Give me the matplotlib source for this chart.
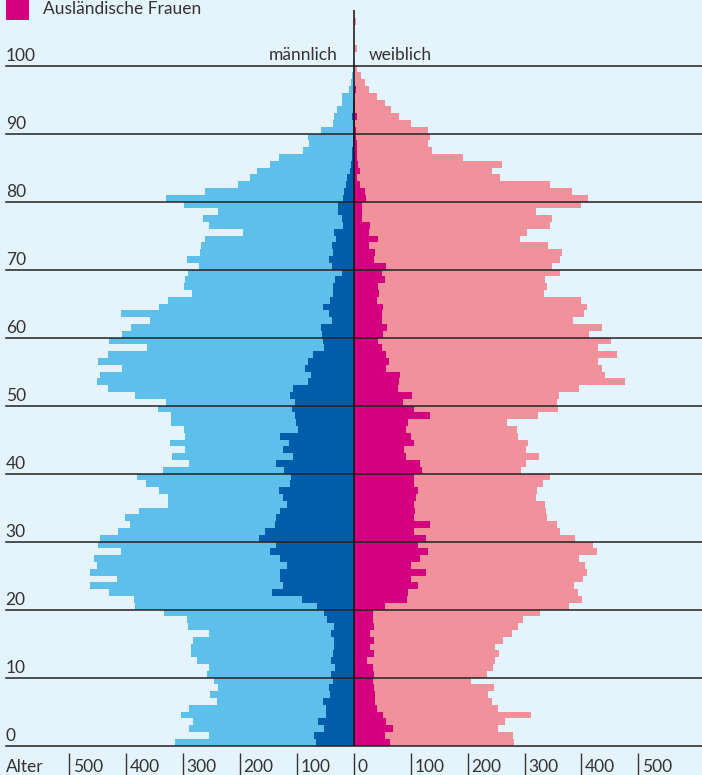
import numpy as np
import matplotlib
matplotlib.use("Agg")
import matplotlib.pyplot as plt
from matplotlib.patches import Rectangle

# Alter 0..100 (Maenner), Werte in Tausend
maenner_gesamt = [315, 254, 290, 283, 303, 290, 241, 252, 239, 246,
                  259, 255, 276, 287, 287, 283, 255, 292, 294, 333,
                  384, 387, 430, 463, 417, 463, 451, 456, 410, 449,
                  447, 414, 394, 403, 377, 327, 327, 343, 366, 382,
                  336, 290, 320, 296, 324, 296, 299, 322, 322, 345,
                  331, 384, 433, 451, 447, 407, 449, 433, 363, 431,
                  407, 391, 359, 410, 343, 327, 285, 299, 296, 292,
                  273, 294, 271, 269, 262, 194, 254, 266, 239, 299,
                  331, 262, 204, 183, 171, 148, 132, 90, 79, 81,
                  58, 37, 35, 30, 20, 20, 9, 5, 4, 2, 2]
maenner_ausl = [67, 70, 53, 63, 49, 49, 55, 42, 44, 37,
                40, 33, 40, 37, 35, 35, 40, 35, 48, 53,
                65, 92, 143, 125, 129, 130, 118, 130, 148, 137,
                167, 157, 139, 137, 129, 118, 125, 132, 113, 111,
                123, 136, 107, 125, 114, 129, 99, 102, 104, 109,
                104, 113, 107, 81, 76, 85, 81, 72, 53, 55,
                56, 58, 39, 44, 55, 42, 37, 37, 33, 21,
                39, 44, 37, 39, 32, 35, 19, 21, 28, 28,
                19, 18, 14, 12, 7, 5, 3, 3, 2, 2,
                2, 1, 4, 1, 1, 0, 0, 0, 0, 0, 0]
# Alter 0..106 (Frauen)
frauen_gesamt = [282, 280, 254, 266, 312, 254, 242, 236, 247, 206,
                 234, 245, 249, 256, 249, 263, 278, 289, 298, 327,
                 378, 401, 394, 387, 403, 410, 406, 396, 427, 420,
                 389, 363, 357, 340, 338, 336, 320, 322, 333, 345,
                 294, 303, 326, 303, 306, 289, 287, 270, 324, 359,
                 357, 361, 396, 477, 442, 436, 429, 463, 429, 452,
                 413, 436, 385, 405, 410, 399, 335, 340, 336, 363,
                 349, 363, 366, 342, 292, 305, 345, 349, 320, 399,
                 412, 384, 345, 257, 242, 261, 191, 138, 131, 133,
                 131, 101, 80, 66, 54, 40, 27, 20, 12, 5,
                 1, 0, 6, 0, 0, 0, 3]
frauen_ausl = [63, 54, 68, 57, 52, 40, 38, 38, 36, 33,
               36, 34, 24, 36, 29, 36, 29, 36, 34, 34,
               54, 94, 96, 112, 101, 127, 101, 117, 131, 112,
               126, 105, 133, 106, 108, 105, 110, 112, 105, 106,
               119, 117, 91, 89, 106, 101, 91, 96, 133, 105,
               87, 103, 77, 80, 82, 57, 61, 57, 50, 42,
               52, 59, 49, 50, 52, 40, 45, 43, 54, 49,
               57, 36, 38, 27, 42, 27, 29, 15, 15, 15,
               22, 20, 10, 6, 10, 8, 6, 5, 6, 3,
               3, 2, 6, 2, 2, 2, 3, 1, 0, 0,
               0, 0, 0, 0, 0, 0, 0]

alter_marken = [0, 10, 20, 30, 40, 50, 60, 70, 80, 90, 100]
x_marken = [500, 400, 300, 200, 100]

bg = "#E5F3FC"
hellblau = "#5EBFEB"
dunkelblau = "#005DA9"
rosa = "#F0919C"
magenta = "#D5007F"
txt = "#333333"

plt.rcParams['font.family'] = ['Lato', 'DejaVu Sans']

fig = plt.figure(figsize=(7.02, 7.75), dpi=100, facecolor=bg)
ax = fig.add_axes([0, 0, 1, 1])
ax.set_facecolor(bg)
ax.set_xlim(-622, 612)
ax.set_ylim(-4.31, 109.66)
ax.axis("off")

am = np.arange(len(maenner_gesamt))
af = np.arange(len(frauen_gesamt))
ax.barh(am, -np.array(maenner_gesamt), height=1, align="edge", color=hellblau, lw=0)
ax.barh(am, -np.array(maenner_ausl), height=1, align="edge", color=dunkelblau, lw=0)
ax.barh(af, frauen_gesamt, height=1, align="edge", color=rosa, lw=0)
ax.barh(af, frauen_ausl, height=1, align="edge", color=magenta, lw=0)

for a in alter_marken:
    ax.axhline(a, xmin=6 / 702, xmax=1, color="#222222", lw=1.1)
    ax.text(-612, a + 0.75, str(a), fontsize=12.5, color=txt, va="baseline", ha="left")

ax.vlines(0, 0, 108.2, color="#111111", lw=1.1)

ax.text(-28, 100.8, "männlich", fontsize=12.5, color=txt, va="baseline", ha="right")
ax.text(27, 100.8, "weiblich", fontsize=12.5, color=txt, va="baseline", ha="left")

# x-Achse unten
yb = -3.82
ax.text(-612, yb, "Alter", fontsize=12.5, color=txt, va="baseline", ha="left")
for v in x_marken:
    for s in (-1, 1):
        ax.vlines(s * v, -4.31, -1.12, color=txt, lw=1.0)
        ax.text(s * v + 6, yb, str(v), fontsize=12.5, color=txt, va="baseline", ha="left")
ax.vlines(0, -4.31, -1.12, color=txt, lw=1.0)
ax.text(6, yb, "0", fontsize=12.5, color=txt, va="baseline", ha="left")

# Legende (oben angeschnitten)
fig.patches.append(Rectangle((6 / 702, 1 - 20 / 775), 23 / 702, 23 / 775,
                             transform=fig.transFigure, color=magenta, lw=0))
fig.text(43 / 702, 1 - 9.5 / 775, "Ausländische Frauen", fontsize=12.5, color=txt,
         va="center", ha="left")

fig.savefig("out.png", dpi=100, facecolor=bg)
